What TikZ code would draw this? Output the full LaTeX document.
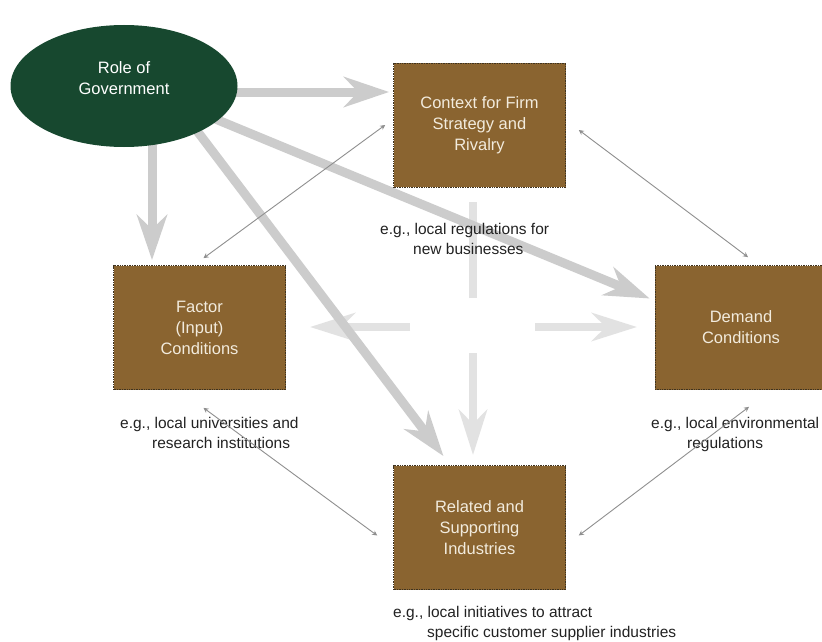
\documentclass[tikz,border=0pt]{standalone}
\usepackage{fontspec}
\setmainfont{Liberation Sans}
\usetikzlibrary{arrows.meta,shapes.geometric,calc}

\definecolor{govgreen}{HTML}{17482F}
\definecolor{boxbrown}{HTML}{8A6430}
\definecolor{boxedge}{HTML}{3F3320}
\definecolor{boxtext}{HTML}{F2EBDD}
\definecolor{flowgray}{HTML}{CCCCCC}
\definecolor{crossgray}{HTML}{E2E2E2}
\definecolor{linkgray}{HTML}{8F8F8F}
\definecolor{notetext}{HTML}{222222}

\pgfdeclarelayer{bg}
\pgfsetlayers{bg,main}

\tikzset{
  forcebox/.style={rectangle, fill=boxbrown, draw=boxedge, densely dotted,
    line width=0.7pt, minimum width=172pt, minimum height=124pt,
    text=boxtext, font=\fontsize{16.5}{21}\selectfont, align=center, inner sep=0pt},
  govnode/.style={ellipse, fill=govgreen, minimum width=227pt, minimum height=122pt, inner sep=0pt},
  govtext/.style={text=white, font=\fontsize{16.5}{21}\selectfont, align=center, inner sep=0pt},
  note/.style={text=notetext, font=\fontsize{15.5}{20}\selectfont, align=left, inner sep=0pt, anchor=west},
  flow/.style={draw=flowgray, line width=9pt, -{Stealth[length=45pt,width=30pt,inset=14pt]}},
  crossbar/.style={draw=crossgray, line width=8pt},
  crossflow/.style={crossbar, -{Stealth[length=45pt,width=28pt,inset=14pt]}},
  link/.style={draw=linkgray, line width=0.9pt,
    {Stealth[length=5pt,width=5pt]}-{Stealth[length=5pt,width=5pt]}},
}

\begin{document}
\begin{tikzpicture}[x=1pt,y=-1pt]
  \useasboundingbox (0,0) rectangle (822,642);
  \begin{pgfonlayer}{bg}
    \fill[white] (0,0) rectangle (822,642);
  \end{pgfonlayer}

  % government and the four determinants
  \node[govnode] (gov) at (124,86) {};
  \node[govtext] (govlabel) at ($(gov.center)+(0,-8)$) {Role of\\Government};
  \node[forcebox] (ctx) at (479.5,125) {Context for Firm\\Strategy and\\Rivalry};
  \node[forcebox] (fac) at (199.5,327.5) {Factor\\(Input)\\Conditions};
  \node[forcebox] (dem) at (741,327.5) {Demand\\Conditions};
  \node[forcebox] (rel) at (479.5,527.5) {Related and\\Supporting\\Industries};

  % examples
  \node[note] (nctx) at (380,239) {e.g., local regulations for\\\hspace*{33pt}new businesses};
  \node[note] (nfac) at (120,433) {e.g., local universities and\\\hspace*{32pt}research institutions};
  \node[note] (ndem) at (651,434) {e.g., local environmental\\\hspace*{36pt}regulations};
  \node[note] (nrel) at (393,623) {e.g., local initiatives to attract\\\hspace*{34pt}specific customer supplier industries};

  % interaction arrows in the middle of the diamond
  \coordinate (hub) at (473,327);
  \begin{pgfonlayer}{bg}
    \draw[crossbar]  ($(hub)+(0,-29)$) -- ($(hub)+(0,-125)$);
    \draw[crossflow] ($(hub)+(0,26)$)  -- ($(hub)+(0,128)$);
    \draw[crossflow] ($(hub)+(62,0)$)  -- ($(hub)+(164,0)$);
    \draw[crossflow] ($(hub)+(-63,0)$) -- ($(hub)+(-163,0)$);
  \end{pgfonlayer}

  % influence of government
  \coordinate (tipC) at ($(ctx.west)+(-4,-33)$);
  \coordinate (tipF) at ($(fac.north)+(-47.5,-5)$);
  \coordinate (tipR) at ($(rel.north)+(-36,-9)$);
  \coordinate (tipD) at ($(dem.west)+(-5,-29)$);
  \begin{pgfonlayer}{bg}
    \draw[flow] (gov.center |- tipC) -- (tipC);
    \draw[flow] (gov.center -| tipF) -- (tipF);
    \draw[flow] ($(gov.center)+(39,0)$) -- (tipR);
    \draw[flow] ($(gov.center)+(26,6)$) -- (tipD);
  \end{pgfonlayer}

  % links between the determinants
  \draw[link] ($(ctx.west)+(-8,0)$) -- ($(fac.north)+(4,-7)$);
  \draw[link] ($(ctx.east)+(13,5)$) -- ($(dem.north)+(7,-8)$);
  \draw[link] ($(fac.south)+(4,18)$) -- ($(rel.west)+(-16,8)$);
  \draw[link] ($(rel.east)+(13,8)$) -- ($(dem.south)+(8,17)$);
\end{tikzpicture}
\end{document}
